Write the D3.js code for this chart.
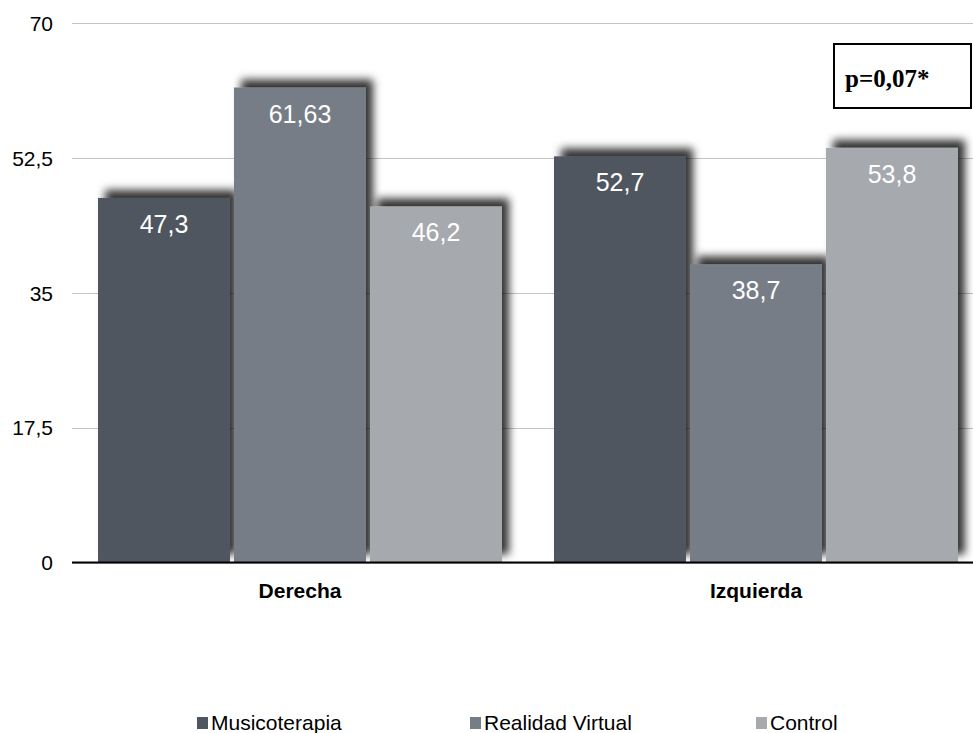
<!DOCTYPE html>
<html>
<head>
<meta charset="utf-8">
<script src="https://cdn.jsdelivr.net/npm/d3@7"></script>
<style>
  html, body { margin: 0; padding: 0; background: #fff; }
  svg { display: block; }
</style>
</head>
<body>
<svg id="chart" width="973" height="733"></svg>
<script>
const categories = ["Derecha", "Izquierda"];
const seriesNames = ["Musicoterapia", "Realidad Virtual", "Control"];
const musicoterapia = [47.3, 52.7];
const realidadVirtual = [61.63, 38.7];
const control = [46.2, 53.8];
const valueLabels = [["47,3", "52,7"], ["61,63", "38,7"], ["46,2", "53,8"]];
const yTicks = [0, 17.5, 35, 52.5, 70];
const yTickLabels = ["0", "17,5", "35", "52,5", "70"];
const annotation = "p=0,07*";

const seriesValues = [musicoterapia, realidadVirtual, control];
const colors = ["#50565f", "#777d87", "#a6a9ae"];

const svg = d3.select("#chart");
const W = 973, H = 733;

const defs = svg.append("defs");
const f = defs.append("filter").attr("id", "shadow")
  .attr("x", "-20%").attr("y", "-20%").attr("width", "140%").attr("height", "140%");
f.append("feDropShadow").attr("dx", 7).attr("dy", -8).attr("stdDeviation", 4.2)
  .attr("flood-color", "#000").attr("flood-opacity", 0.8);

const y = d3.scaleLinear().domain([0, 70]).range([562.5, 23]);
const x0 = d3.scaleBand().domain(categories).range([72, 984]).padding(0);
const x1 = d3.scaleBand().domain(d3.range(seriesNames.length))
  .range([26, x0.bandwidth() - 26]).paddingInner(4 / 136).paddingOuter(0);

// gridlines
const yAxis = d3.axisLeft(y).tickValues(yTicks)
  .tickFormat((d, i) => yTickLabels[i]).tickSize(-(W - 72)).tickPadding(19);
const gy = svg.append("g").attr("transform", "translate(72,0)").call(yAxis);
gy.select(".domain").remove();
gy.selectAll(".tick line").attr("stroke", "#c4c4c4").attr("stroke-width", 1)
  .attr("shape-rendering", "crispEdges");
gy.selectAll(".tick text").attr("font-family", "Liberation Sans, Arial, sans-serif")
  .attr("font-size", 21).attr("fill", "#000").attr("dy", "0.35em");

// bars
const groups = svg.append("g").selectAll("g").data(categories).join("g")
  .attr("transform", d => `translate(${x0(d)},0)`);

groups.each(function(cat, ci) {
  const g = d3.select(this);
  seriesNames.forEach((s, si) => {
    const v = seriesValues[si][ci];
    g.append("rect")
      .attr("x", x1(si)).attr("width", x1.bandwidth())
      .attr("y", y(v)).attr("height", y(0) - y(v))
      .attr("fill", colors[si]).attr("filter", "url(#shadow)");
  });
  seriesNames.forEach((s, si) => {
    const v = seriesValues[si][ci];
    g.append("text")
      .attr("x", x1(si) + x1.bandwidth() / 2).attr("y", y(v) + 35)
      .attr("text-anchor", "middle")
      .attr("font-family", "Liberation Sans, Arial, sans-serif")
      .attr("font-size", 25).attr("fill", "#fff")
      .text(valueLabels[si][ci]);
  });
});

// x axis line
svg.append("line").attr("x1", 72).attr("x2", W).attr("y1", y(0)).attr("y2", y(0))
  .attr("stroke", "#000").attr("stroke-width", 2);

// x labels
const xAxis = d3.axisBottom(x0).tickSize(0).tickPadding(0);
const gx = svg.append("g").attr("transform", `translate(0,${y(0)})`).call(xAxis);
gx.select(".domain").remove();
gx.selectAll(".tick text").attr("font-family", "Liberation Sans, Arial, sans-serif")
  .attr("font-size", 21).attr("font-weight", "bold").attr("fill", "#000")
  .attr("dy", 0).attr("y", 35);

// legend
const legendX = [197, 470, 756];
const lg = svg.append("g");
seriesNames.forEach((s, i) => {
  lg.append("rect").attr("x", legendX[i]).attr("y", 717).attr("width", 11).attr("height", 12)
    .attr("fill", colors[i]);
  lg.append("text").attr("x", legendX[i] + 14).attr("y", 730)
    .attr("font-family", "Liberation Sans, Arial, sans-serif").attr("font-size", 21)
    .attr("fill", "#000").text(s);
});

// annotation box
svg.append("rect").attr("x", 834).attr("y", 44).attr("width", 137).attr("height", 64)
  .attr("fill", "#fff").attr("stroke", "#000").attr("stroke-width", 2);
svg.append("text").attr("x", 845).attr("y", 87)
  .attr("font-family", "Liberation Serif, Times New Roman, serif")
  .attr("font-size", 25).attr("font-weight", "bold").attr("fill", "#000")
  .text(annotation);
</script>
</body>
</html>
